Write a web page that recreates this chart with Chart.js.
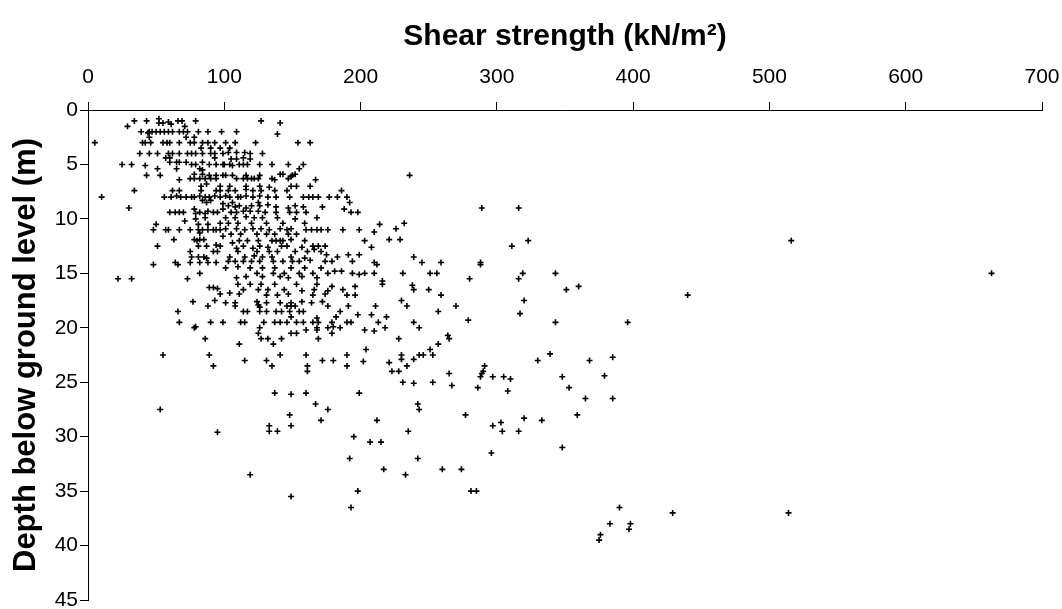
<!DOCTYPE html>
<html>
<head>
<meta charset="utf-8">
<script src="https://cdn.jsdelivr.net/npm/chart.js@4"></script>
<style>
  html, body { margin: 0; padding: 0; background: #fff; }
  #wrap { width: 1062px; height: 609px; }
</style>
</head>
<body>
<div id="wrap"><canvas id="chart"></canvas></div>
<script>
// shear strength (kN/m2) and depth (m), parallel arrays, grouped by area of the plot
const strength = [
  34,29,43,52,52,55,59,61,66,69,71,79,
  39,44,45,47,50,53,56,59,62,67,70,73,81,88,98,
  45,72,78,
  5,40,42,46,55,58,60,67,75,78,84,88,93,
  83,90,97,
  38,45,51,59,62,67,73,76,79,84,90,93,99,
  57,60,93,
  60,65,67,72,76,79,84,89,94,99,
  25,32,42,51,65,82,84,
  43,53,78,84,89,94,99,
  67,75,78,82,86,90,94,
  83,87,97,
  34,62,67,83,94,97,
  10,56,61,65,68,72,76,78,82,86,89,93,97,
  84,87,90,99,
  // 100-210, top
  127,141,109,139,101,108,123,154,163,
  104,109,115,119,103,128,
  105,109,114,119,
  100,104,106,111,114,117,126,135,147,158,
  155,
  101,106,116,126,150,152,149,
  109,114,117,120,122,125,135,137,141,143,147,167,
  104,116,126,133,149,153,163,
  103,108,116,121,127,137,146,186,
  101,104,110,112,116,121,126,132,138,148,158,162,165,169,177,183,190,
  192,106,125,
  // 0-100, middle
  30,
  60,64,67,70,78,79,82,86,88,92,95,99,
  79,86,97,71,
  50,81,88,
  48,57,59,67,75,81,84,88,92,94,97,82,99,
  63,78,82,85,80,
  51,81,87,94,97,
  75,92,95,
  76,81,85,87,
  48,64,66,75,82,88,94,
  82,
  22,32,73,
  89,92,95,97,
  // 100-210, middle
  103,108,111,116,120,126,132,138,147,152,158,172,188,
  105,109,114,119,125,130,138,148,153,160,168,193,198,
  101,108,116,122,128,139,152,
  103,110,120,131,143,159,
  101,109,115,121,127,133,141,146,149,160,164,168,171,176,187,199,
  105,112,124,131,137,147,153,
  106,111,117,125,135,138,141,143,149,159,203,
  109,114,121,126,132,142,146,157,165,169,174,
  110,124,133,139,152,161,166,171,
  104,115,122,128,135,149,159,175,183,191,199,
  103,108,114,120,126,136,143,150,155,163,174,179,194,
  101,110,119,128,137,149,159,171,181,186,199,203,
  124,136,144,155,165,176,194,
  109,116,128,141,147,157,168,
  110,119,127,137,153,168,179,196,
  114,125,132,144,157,166,176,187,
  104,111,131,139,147,165,174,190,196,
  101,108,124,131,141,149,157,164,172,
  // 0-100, lower
  77,93,88,66,67,78,79,90,99,86,55,89,92,
  // 100-210, lower
  108,125,126,146,149,152,176,191,
  114,117,126,131,138,142,148,155,158,185,198,
  149,168,182,
  112,115,129,137,141,146,153,158,165,169,179,190,193,
  126,160,168,176,180,185,203,
  125,149,153,179,168,
  127,132,142,169,
  111,136,204,
  141,160,190,
  115,131,172,180,202,
  135,161,190,161,
  137,149,160,199,
  // 210-355
  236,289,316,214,226,232,210,221,229,311,323,208,
  239,245,259,210,212,288,288,210,231,251,256,316,
  319,343,280,216,216,238,239,250,259,351,230,234,
  211,320,270,208,219,213,257,317,239,243,210,218,
  279,343,228,264,265,257,251,253,230,230,243,246,
  221,234,239,223,228,231,239,253,265,267,291,290,
  289,288,297,305,310,286,308,330,339,348,353,
  // deep
  53,95,119,133,133,139,148,149,149,167,176,171,
  212,195,207,215,192,217,233,198,193,242,243,235,
  277,242,260,274,281,285,
  // far right
  516,663,360,440,396,385,368,379,365,385,359,320,333,297,
  303,304,316,296,348,390,429,514,383,398,397,376,375
];

const depth = [
  1.0,1.5,1.0,0.8,1.2,1.2,1.1,1.3,1.0,1.0,1.5,1.0,
  2.0,2.1,2.0,2.0,2.0,2.0,2.0,2.0,2.0,2.0,2.0,2.0,2.0,2.0,2.0,
  2.5,2.5,2.5,
  3,3,3,3,3,3,3,3,3,3,3,3,3,
  3.5,3.5,3.5,
  4,4,4,4,4,4,4,4,4,4,4,4,4,
  4.4,4.4,4.4,
  4.8,4.8,4.8,4.8,5.0,5.0,4.8,5.0,5.0,5.0,
  5.0,5.0,5.1,5.4,5.4,5.4,5.5,
  6.0,6.0,5.9,5.9,6.0,6.0,6.0,
  6.4,6.3,6.3,6.3,6.3,6.3,6.3,
  7.0,6.8,7.0,
  7.4,7.4,7.4,7.4,7.4,7.4,
  8.0,8.0,8.0,7.9,8.0,8.0,8.0,8.0,7.9,8.0,8.0,7.9,8.0,
  8.3,8.5,8.3,8.6,
  // 100-210, top
  1.0,1.2,2.0,2.2,3.0,3.0,3.0,3.0,3.0,
  3.5,3.9,3.9,4.0,3.9,4.0,
  4.5,4.5,4.4,4.5,
  5.0,5.0,5.1,5.0,5.0,5.0,5.0,5.0,5.0,5.0,
  5.4,
  6.0,6.0,6.0,6.0,6.0,5.9,6.1,
  6.3,6.3,6.3,6.3,6.3,6.3,6.3,6.4,5.9,5.9,6.3,6.4,
  7.0,7.0,7.0,7.1,7.0,7.0,7.0,
  7.4,7.4,7.3,7.4,7.4,7.4,7.4,7.4,
  7.9,8.0,8.0,8.0,7.9,8.0,7.9,8.0,8.0,8.0,8.0,8.0,8.0,8.0,8.0,8.0,8.0,
  8.5,8.5,8.5,
  // 0-100, middle
  9.0,
  9.4,9.4,9.4,9.4,9.1,9.5,9.4,9.5,9.3,9.4,9.4,9.1,
  10.0,9.9,10.4,10.2,
  10.5,10.5,10.5,
  11.0,11.0,11.0,11.0,11.0,11.0,11.0,11.0,11.0,11.0,11.0,11.3,11.6,
  11.9,11.9,11.9,11.9,12.0,
  12.5,12.5,12.5,12.4,12.5,
  13.0,13.0,13.0,
  13.5,13.5,13.5,13.6,
  14.2,14.0,14.2,14.0,14.0,14.0,14.0,
  15.0,
  15.5,15.5,15.5,
  16.3,16.3,16.4,16.9,
  // 100-210, middle
  8.8,8.9,8.8,9.0,8.8,8.8,8.7,8.9,9.0,8.8,8.9,8.9,9.1,
  9.4,9.4,9.3,9.3,9.3,9.4,9.4,9.4,9.4,9.4,9.9,9.4,9.4,
  9.9,9.9,9.8,9.9,9.9,9.9,10.0,
  10.4,10.4,10.4,10.4,10.4,10.4,
  10.9,10.9,11.0,10.9,10.9,11.0,10.9,11.0,10.9,11.0,11.0,11.0,11.0,11.0,11.0,11.0,
  11.4,11.4,11.4,11.4,11.4,11.4,11.4,
  12.2,12.0,12.0,12.0,12.0,12.0,12.0,12.0,11.9,12.0,12.0,
  12.7,12.5,12.7,12.5,12.6,12.5,12.5,12.6,12.5,12.5,12.5,
  13.0,13.0,13.0,13.0,13.0,13.0,12.8,13.0,
  13.5,13.5,13.4,13.5,13.5,13.5,13.6,13.3,13.5,13.3,13.3,
  13.9,13.9,13.9,13.9,13.9,13.9,13.9,13.9,13.9,13.8,13.9,13.9,13.9,
  14.5,14.4,14.5,14.5,14.5,14.5,14.5,14.5,14.8,14.8,15.1,15.0,
  15.0,15.0,15.0,15.0,15.0,15.0,15.0,
  15.4,15.3,15.3,15.3,15.4,15.3,15.4,
  16.0,16.0,16.0,16.0,16.0,16.0,16.2,16.2,
  16.5,16.5,16.5,16.5,16.6,16.5,16.6,16.5,
  16.8,16.9,17.0,17.0,16.9,17.0,16.9,17.0,17.0,
  17.7,17.7,17.6,17.7,17.7,17.7,17.6,17.7,17.6,
  // 0-100, lower
  17.6,17.5,18.0,18.5,19.5,20.0,19.9,19.5,19.5,21.0,22.5,22.5,23.5,
  // 100-210, lower
  18.0,17.9,18.1,18.0,18.0,18.0,18.0,18.0,
  18.5,18.5,18.5,18.5,18.5,18.5,18.5,18.5,18.5,18.5,18.8,
  19.0,19.1,19.0,
  19.5,19.5,19.5,19.5,19.5,19.5,19.5,19.5,19.5,19.5,19.5,19.5,19.5,
  20.0,20.2,20.0,20.0,19.9,20.0,20.2,
  20.5,20.5,20.5,20.5,20.2,
  21.0,21.0,21.0,21.0,
  21.5,21.5,22.0,
  22.5,22.5,22.5,
  23.0,23.0,23.0,23.0,23.1,
  23.5,23.5,23.5,24.0,
  26.0,26.1,26.0,26.0,
  // 210-355
  6.0,9.0,9.0,10.5,10.9,10.4,11.2,11.9,11.9,12.5,12.0,12.6,
  13.5,14.0,14.0,14.0,14.2,14.0,14.2,15.0,15.0,15.0,15.0,15.5,
  15.0,15.0,15.5,15.7,16.0,16.1,16.5,16.5,17.0,16.5,17.5,18.0,
  18.0,17.5,18.0,18.8,19.0,19.5,18.5,18.7,19.5,20.0,20.3,20.0,
  19.3,19.5,21.0,20.7,21.0,21.5,22.0,22.5,22.5,22.9,22.5,22.5,
  23.2,23.5,22.9,24.0,24.0,25.0,25.1,25.0,24.2,25.3,23.5,24.0,
  24.2,24.5,24.5,24.5,24.7,25.5,25.8,23.0,22.4,24.5,25.5,
  // deep
  27.5,29.6,33.5,29.0,29.5,29.5,28.0,29.0,35.5,27.0,27.5,28.5,
  28.5,30.0,30.5,30.5,32.0,33.0,33.5,35.0,36.5,27.0,27.5,29.5,
  28.0,32.0,33.0,33.0,35.0,35.0,
  // far right
  12.0,15.0,16.2,17.0,19.5,22.7,23.0,24.4,26.5,26.5,28.0,28.3,28.5,29.0,
  28.7,29.5,29.5,31.5,31.0,36.5,37.0,37.0,38.0,38.0,38.5,39.0,39.5
];

const xTickValues = [0, 100, 200, 300, 400, 500, 600, 700];
const yTickValues = [0, 5, 10, 15, 20, 25, 30, 35, 40, 45];

const family = "'Liberation Sans', Arial, sans-serif";
Chart.defaults.font.family = family;
Chart.defaults.color = '#000';

const points = strength.map((s, i) => ({ x: s, y: depth[i] }));

const axisGrid = { drawOnChartArea: false, drawTicks: true, tickLength: 8, color: '#000', lineWidth: 1 };
const axisBorder = { display: true, color: '#000', width: 1 };

new Chart(document.getElementById('chart'), {
  type: 'scatter',
  data: {
    datasets: [{
      data: points,
      pointStyle: 'cross',
      pointRadius: 3,
      pointHoverRadius: 3,
      borderColor: '#000',
      backgroundColor: '#000',
      borderWidth: 1.6
    }]
  },
  options: {
    responsive: true,
    maintainAspectRatio: false,
    animation: false,
    layout: { padding: { left: 0, right: 20, top: 0, bottom: 9 } },
    plugins: { legend: { display: false }, tooltip: { enabled: false } },
    scales: {
      x: {
        type: 'linear',
        position: 'top',
        min: 0,
        max: 700,
        afterBuildTicks: s => { s.ticks = xTickValues.map(v => ({ value: v })); },
        afterFit: s => { s.height = 110; s.paddingLeft = 0; s.paddingRight = 0; },
        grid: axisGrid,
        border: axisBorder,
        ticks: { color: '#000', font: { size: 21 }, padding: 12, maxRotation: 0, autoSkip: false },
        title: {
          display: true,
          text: 'Shear strength (kN/m\u00B2)',
          color: '#000',
          font: { size: 30, weight: 'bold' },
          padding: { top: 19, bottom: 0 }
        }
      },
      y: {
        type: 'linear',
        reverse: true,
        min: 0,
        max: 45,
        afterBuildTicks: s => { s.ticks = yTickValues.map(v => ({ value: v })); },
        afterFit: s => { s.width = 88; s.paddingTop = 0; s.paddingBottom = 0; },
        grid: axisGrid,
        border: axisBorder,
        ticks: { color: '#000', font: { size: 21 }, padding: 2, autoSkip: false },
        title: {
          display: true,
          text: 'Depth below ground level (m)',
          color: '#000',
          font: { size: 31, weight: 'bold' },
          padding: { top: 8, bottom: 0 }
        }
      }
    }
  }
});
</script>
</body>
</html>
